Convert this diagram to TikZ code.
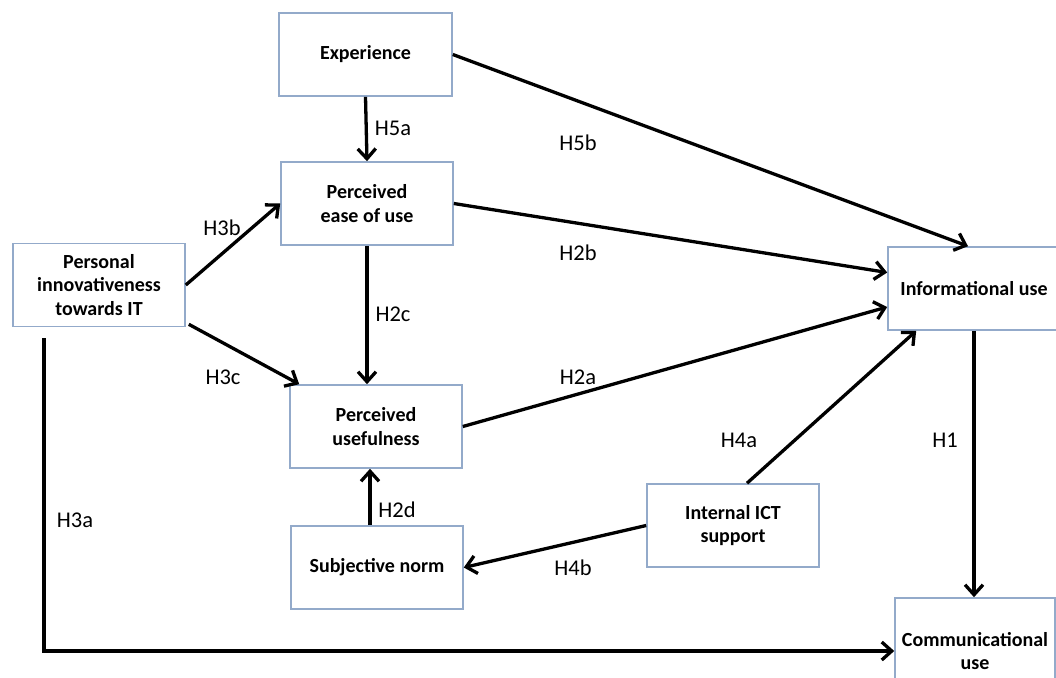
\documentclass[tikz,border=0pt]{standalone}
\usepackage{fontspec}
\setmainfont{Carlito}
\usetikzlibrary{arrows.meta,calc}
\definecolor{boxline}{HTML}{93AACA}
\tikzset{
  box/.style={draw=boxline, line width=1.6pt, fill=white, minimum width=172pt, minimum height=83pt,
    inner sep=2pt, align=center, font=\fontsize{20}{23.5}\selectfont\bfseries},
  link/.style={line width=3.3pt, -{Straight Barb[length=10pt,width=18pt]}},
  hlab/.style={font=\fontsize{22.5}{26}\selectfont, inner sep=0pt}
}
\begin{document}
\begin{tikzpicture}[x=1pt,y=-1pt]
\useasboundingbox (0,0) rectangle (1056,677);
\fill[white] (0,0) rectangle (1056,677);
% boxes
\node[box, minimum width=173pt] (exp) at (365.5,54.5) {Experience};
\node[box] (peou) at (367,203.5) {Perceived\\ease of use};
\node[box] (pi) at (99,285) {Personal\\innovativeness\\towards IT};
\node[box] (info) at (974,288.5) {Informational use};
\node[box] (pu) at (376,426.5) {Perceived\\usefulness};
\node[box] (sn) at (377,567.5) {Subjective norm};
\node[box] (ict) at (733,525.5) {Internal ICT\\support};
\node[box, minimum width=160pt, minimum height=106pt] (comm) at (975,651) {Communicational\\use};
% connectors
\draw[link] (exp.south) -- (peou.north);
\draw[link] (exp.east) -- ($(info.north)+(-6,0)$);
\draw[link] (peou.east) -- ($(info.west)+(0,-16)$);
\draw[link] (peou.south) -- (peou.south |- pu.north);
\draw[link] (pi.east) -- (peou.west);
\draw[link] ($(pi.south east)+(3,-3)$) -- ($(pu.north west)+(10,0)$);
\draw[link] (pu.east) -- ($(info.west)+(0,18.5)$);
\draw[link] ($(ict.north)+(14,0)$) -- ($(info.south west)+(29,0)$);
\draw[link] (ict.west) -- (sn.east);
\coordinate (snup) at ($(sn.north)+(-7,0)$);
\draw[link] (snup) -- (snup |- pu.south);
\draw[link] (info.south) -- (info.south |- comm.north);
\coordinate (h3astart) at (44,338);
\draw[link] (h3astart) |- (comm.west);
% labels
\node[hlab] (l5a) at (393,128) {H5a};
\node[hlab] (l5b) at (578,143) {H5b};
\node[hlab] (l2b) at (578,253) {H2b};
\node[hlab] (l2c) at (393,314) {H2c};
\node[hlab] (l3b) at (222,228) {H3b};
\node[hlab] (l3c) at (223,377) {H3c};
\node[hlab] (l2a) at (578,377) {H2a};
\node[hlab] (l4a) at (739,440) {H4a};
\node[hlab] (l1) at (945,440) {H1};
\node[hlab] (l2d) at (397,510) {H2d};
\node[hlab] (l4b) at (573,568) {H4b};
\node[hlab] (l3a) at (75,520) {H3a};
\end{tikzpicture}
\end{document}
